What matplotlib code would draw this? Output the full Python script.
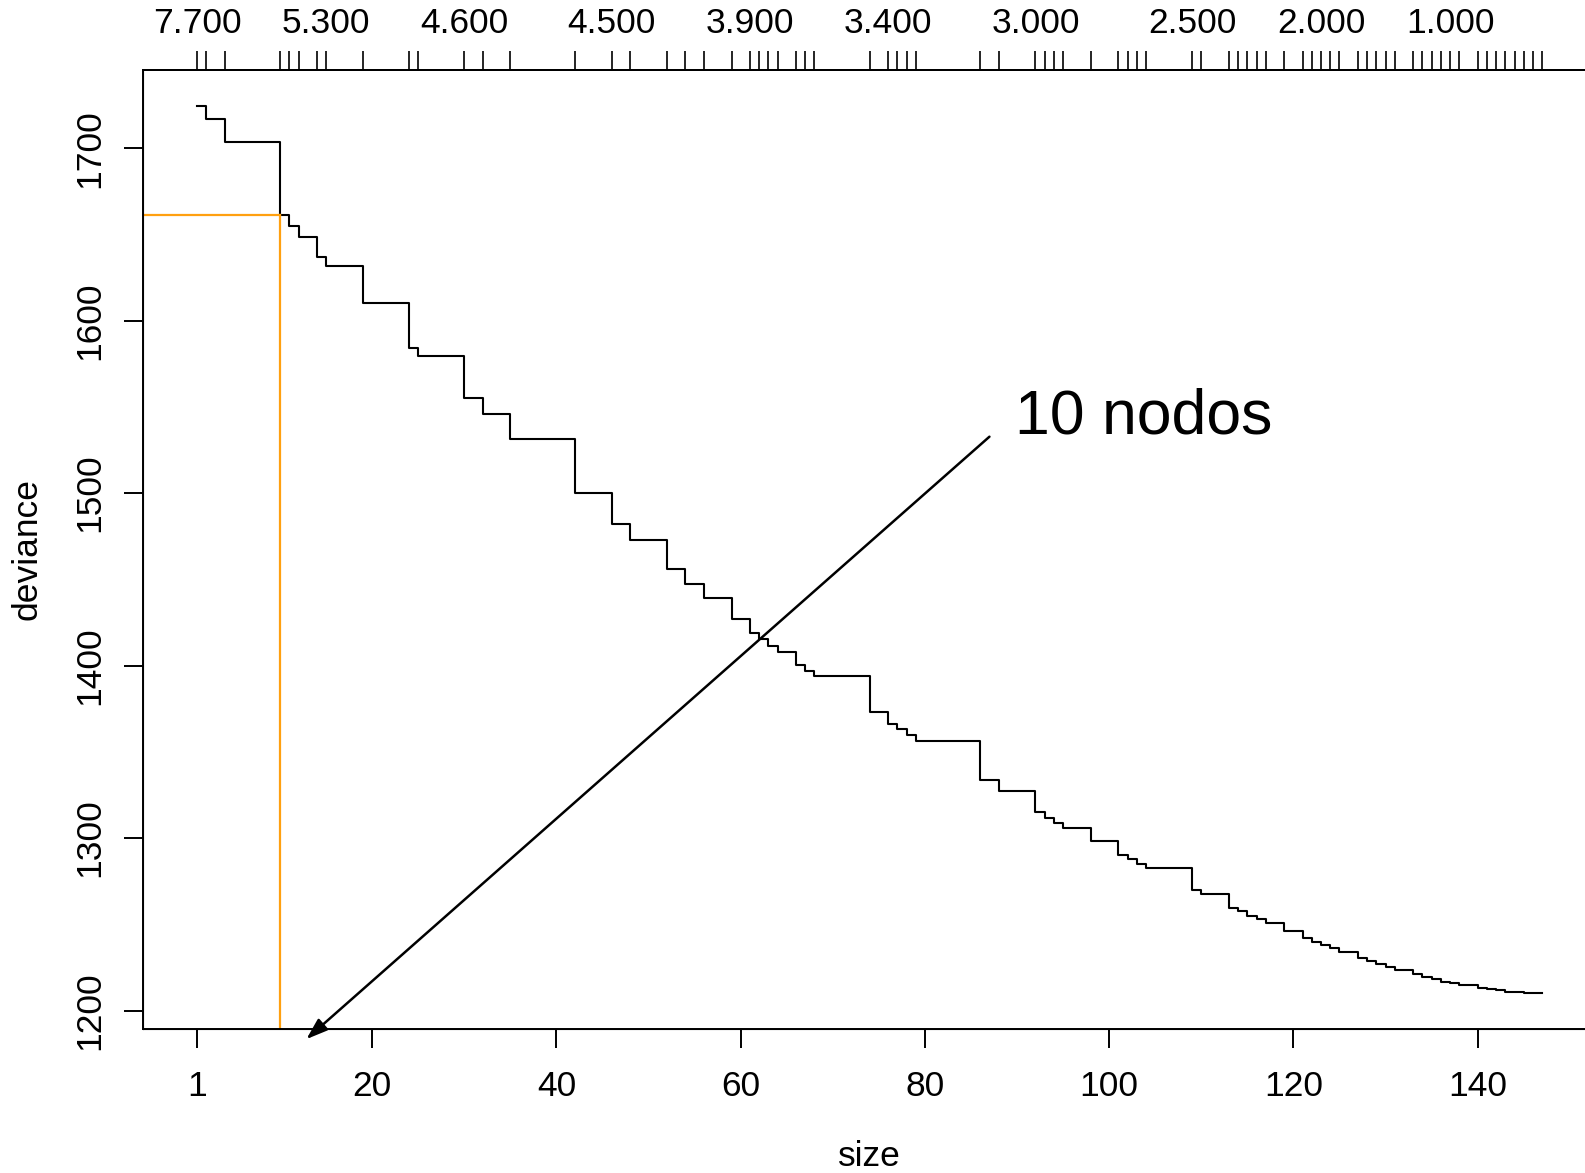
import matplotlib
matplotlib.use("Agg")
import matplotlib.pyplot as plt

plt.rcParams['font.family'] = ['Liberation Sans', 'DejaVu Sans']

# tree sizes and cross-validated deviance
sizes = [1, 2, 4, 10, 11, 12, 14, 15, 19, 24,
         25, 30, 32, 35, 42, 46, 48, 52, 54, 56,
         59, 61, 62, 63, 64, 66, 67, 68, 74, 76,
         77, 78, 79, 86, 88, 92, 93, 94, 95, 98,
         101, 102, 103, 104, 109, 110, 113, 114, 115, 116,
         117, 119, 121, 122, 123, 124, 125, 127, 128, 129,
         130, 131, 133, 134, 135, 136, 137, 138, 140, 141,
         142, 143, 144, 145, 146, 147]
deviance = [1724.7, 1717.0, 1703.3, 1661.2, 1654.9, 1648.4, 1637.1, 1631.7, 1610.4, 1584.3,
            1579.5, 1555.0, 1545.7, 1531.6, 1499.9, 1482.1, 1472.8, 1455.8, 1447.3, 1439.2,
            1427.0, 1419.0, 1415.2, 1411.5, 1407.8, 1400.3, 1396.8, 1393.7, 1373.0, 1366.4,
            1363.0, 1359.5, 1356.4, 1333.8, 1327.2, 1315.0, 1311.7, 1309.0, 1306.1, 1298.0,
            1290.1, 1287.6, 1285.0, 1282.4, 1270.0, 1267.3, 1259.5, 1257.6, 1254.9, 1252.8,
            1250.5, 1246.0, 1242.1, 1240.0, 1237.9, 1236.0, 1234.0, 1230.5, 1228.6, 1226.7,
            1225.1, 1223.4, 1220.9, 1219.3, 1218.0, 1216.6, 1215.7, 1214.7, 1213.1, 1212.4,
            1211.6, 1211.0, 1210.6, 1210.2, 1210.0, 1209.9]

# cost-complexity labels shown on the top axis
k_sizes = [1, 15, 30, 46, 61, 76, 92, 109, 123, 137]
k_labels = ["7.700", "5.300", "4.600", "4.500", "3.900",
            "3.400", "3.000", "2.500", "2.000", "1.000"]

x_ticks = [1, 20, 40, 60, 80, 100, 120, 140]
y_ticks = [1200, 1300, 1400, 1500, 1600, 1700]

best_size = 10

fig = plt.figure(figsize=(15.85, 11.73), dpi=100)
ax = fig.add_axes([0.0905, 0.1228, 0.9164, 0.8175])

ax.step(sizes, deviance, where='post', color='black', lw=1.5)

# highlight chosen tree size
best_dev = deviance[sizes.index(best_size)]
ax.plot([-10, best_size], [best_dev, best_dev], color='#FFA010', lw=1.6)
ax.plot([best_size, best_size], [1000, best_dev], color='#FFA010', lw=1.6)

ax.set_xlim(-4.84, 152.84)
ax.set_ylim(1189.3, 1745.3)
ax.set_xticks(x_ticks)
ax.set_yticks(y_ticks)
ax.set_yticklabels([str(v) for v in y_ticks], rotation=90, va='center')
ax.tick_params(labelsize=25.5, length=13.5, width=1.4, pad=13)
ax.tick_params(axis='x', pad=16)
ax.set_xlabel('size', fontsize=25.5, labelpad=27)
ax.set_ylabel('deviance', fontsize=25.5, labelpad=22)
ax.spines['right'].set_visible(False)
for s in ['left', 'top', 'bottom']:
    ax.spines[s].set_linewidth(1.4)

top = ax.twiny()
top.set_xlim(ax.get_xlim())
top.set_xticks(sizes)
lab = dict(zip(k_sizes, k_labels))
top.set_xticklabels([lab.get(s, '') for s in sizes])
top.tick_params(labelsize=25.5, length=13.5, width=1.2, pad=8)
top.spines['right'].set_visible(False)
top.spines['top'].set_linewidth(1.4)

ax.annotate('', xy=(12.85, 1183.4), xytext=(87.0, 1532.7),
            arrowprops=dict(arrowstyle='-|>,head_length=1.3,head_width=0.45',
                            color='black', lw=1.8, shrinkA=0, shrinkB=0),
            annotation_clip=False)
ax.text(89.8, 1534.7, '10 nodos', fontsize=45, ha='left', va='baseline')

fig.savefig('out.png', dpi=100)
